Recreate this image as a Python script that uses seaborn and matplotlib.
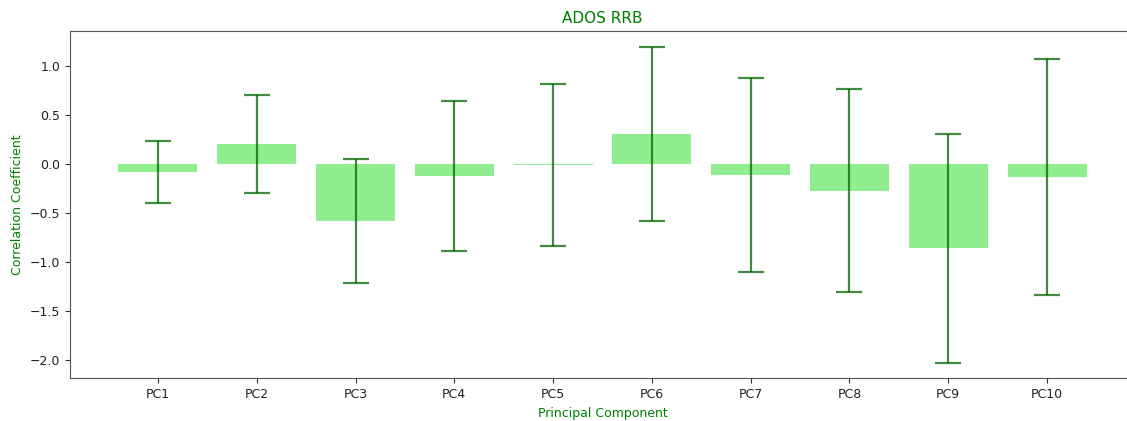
import matplotlib
matplotlib.use("Agg")
import matplotlib.pyplot as plt
import seaborn as sns
import pandas as pd

components = ["PC1", "PC2", "PC3", "PC4", "PC5", "PC6", "PC7", "PC8", "PC9", "PC10"]
coefficients = [-0.08, 0.21, -0.58, -0.12, -0.01, 0.31, -0.11, -0.27, -0.86, -0.13]
errors = [0.32, 0.50, 0.63, 0.77, 0.83, 0.89, 0.99, 1.04, 1.17, 1.21]

sns.set_style("ticks")
plt.rcParams["font.family"] = ["DejaVu Sans"]

df = pd.DataFrame({"component": components, "coef": coefficients})

fig = plt.figure(figsize=(11.27, 4.21), dpi=100)
ax = fig.add_axes([0.0621, 0.101, 0.945, 0.825])

sns.barplot(data=df, x="component", y="coef", color="lightgreen",
            saturation=1, width=0.8, linewidth=0, edgecolor="none", ax=ax)
ax.errorbar(range(len(components)), coefficients, yerr=errors, fmt="none",
            ecolor="darkgreen", elinewidth=1.6, capsize=9.5, capthick=1.6,
            alpha=0.75)

ax.set_xlim(-0.89, 9.89)
ax.set_ylim(-2.19, 1.36)
ax.set_yticks([-2.0, -1.5, -1.0, -0.5, 0.0, 0.5, 1.0])
ax.set_title("ADOS RRB", color="green", fontsize=11)
ax.set_xlabel("Principal Component", color="green", fontsize=9)
ax.set_ylabel("Correlation Coefficient", color="green", fontsize=9)
ax.tick_params(labelsize=9, colors="#333333", labelcolor="#222222")
for s in ax.spines.values():
    s.set_color("#555555")

fig.savefig("out.png", dpi=100)
